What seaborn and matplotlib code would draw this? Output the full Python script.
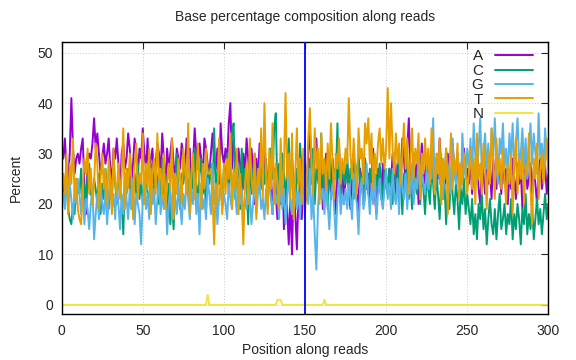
import numpy as np
import pandas as pd
import seaborn as sns
import matplotlib.pyplot as plt

# base composition per read position
pos = list(range(1, 301))

base_a = [29,33,27,24,30,41,31,26,29,30,28,31,33,24,18,28,30,29,32,37,31,34,30,26,29,
          32,28,30,33,27,25,31,29,33,28,22,30,32,27,29,34,31,24,28,33,30,26,31,29,35,
          30,27,33,25,29,31,24,28,32,30,26,34,29,23,31,27,30,33,28,25,31,29,27,32,30,
          26,33,29,31,24,28,35,30,27,32,29,25,33,31,28,26,30,34,29,27,31,24,36,30,28,
          31,28,36,40,27,33,29,25,31,28,22,30,26,33,29,24,31,27,20,29,25,32,28,23,30,
          26,21,29,24,18,27,22,17,25,20,28,15,23,19,12,21,10,24,18,11,22,26,17,23,20,
          22,30,35,27,24,31,33,26,22,28,19,25,30,23,27,21,29,24,18,26,31,22,27,20,25,
          28,23,19,26,30,22,25,18,27,24,21,29,23,26,20,25,31,22,18,27,24,21,28,23,26,
          22,27,24,30,25,21,28,26,23,33,29,24,31,37,27,22,30,25,28,20,26,32,27,24,29,
          23,28,31,26,22,29,25,33,27,21,28,24,30,26,23,32,27,25,29,22,28,24,31,26,27,
          24,29,22,27,25,31,23,20,28,26,22,30,24,27,21,29,25,23,28,26,22,30,24,27,20,
          26,23,29,25,21,28,24,27,19,26,30,23,25,28,22,27,24,20,26,29,23,25,28,22,26]

base_c = [24,21,27,19,17,16,20,18,25,23,22,27,20,24,19,26,28,22,21,25,23,20,26,18,24,
          21,27,23,19,25,22,28,24,20,26,23,21,14,25,22,27,24,19,23,26,22,28,21,25,20,
          23,26,22,19,28,24,21,27,25,20,23,29,22,26,18,24,16,21,15,23,30,22,19,26,24,
          28,22,25,20,27,23,31,24,21,26,29,22,25,19,27,24,28,21,35,23,26,32,24,20,27,
          25,30,22,27,34,36,21,28,26,19,31,23,27,24,16,29,22,26,30,21,25,28,23,27,24,
          29,23,27,31,25,35,38,22,28,24,30,26,21,27,33,23,29,25,20,27,24,32,26,22,28,
          26,22,29,24,31,20,27,25,23,34,21,28,26,19,30,24,22,27,25,36,23,20,28,26,24,
          30,22,27,25,21,28,24,31,23,26,20,29,25,22,27,24,30,21,26,23,28,25,20,27,24,
          22,27,24,20,29,25,22,31,24,18,26,23,28,21,25,19,27,24,22,29,20,26,23,18,25,
          23,20,27,24,19,26,22,17,25,21,24,16,23,19,26,22,18,24,21,15,23,20,25,18,22,
          19,16,21,14,18,13,20,17,22,15,19,12,17,21,16,14,19,13,18,22,15,17,20,14,18,
          16,21,13,18,15,20,17,12,19,16,22,14,18,15,20,13,17,21,16,19,14,18,22,17,20]

base_g = [22,19,26,18,24,21,17,23,20,25,22,18,24,16,21,19,15,20,23,13,18,22,17,24,20,
          18,23,16,21,25,19,22,17,24,20,15,22,18,26,21,17,23,19,25,16,22,20,18,12,21,
          24,19,22,17,27,20,23,16,21,25,18,22,19,24,14,20,23,17,26,21,18,24,20,16,22,
          19,25,21,17,23,20,26,18,22,14,24,19,21,17,25,22,18,28,20,23,16,21,24,19,22,
          20,17,24,21,19,26,22,18,25,20,23,17,21,19,24,22,16,20,25,18,22,24,19,21,17,
          23,19,26,21,18,24,20,22,17,25,19,23,16,21,26,20,18,24,22,19,23,17,25,20,22,
          24,20,27,17,22,14,7,19,25,21,23,18,26,20,15,22,24,19,13,21,25,18,22,20,23,
          19,24,21,17,26,22,20,14,23,25,19,21,28,22,18,24,20,26,17,22,25,21,19,23,27,
          21,24,19,27,22,20,25,18,29,23,21,26,19,24,22,28,20,25,23,30,21,26,24,22,27,
          23,28,25,37,22,27,30,24,29,21,26,31,25,28,22,33,26,24,30,27,23,34,28,25,31,
          27,33,26,36,29,24,31,37,26,30,34,27,32,25,35,29,37,28,24,33,30,36,27,31,25,
          34,29,36,26,32,37,28,30,35,27,33,25,31,36,28,34,30,26,38,29,32,27,35,30,28]

base_t = [26,22,30,18,28,24,33,21,25,19,17,16,23,29,26,31,22,27,20,24,32,28,19,25,30,
          23,27,20,29,25,18,31,24,22,28,21,26,35,19,27,23,30,25,17,28,32,21,26,24,34,
          20,28,23,31,18,26,29,22,34,25,27,21,30,19,24,28,23,33,17,26,22,29,25,20,31,
          27,22,36,18,26,30,21,25,32,24,19,28,23,31,26,26,27,22,12,24,20,33,25,18,28,
          22,29,25,34,19,27,23,31,18,26,21,12,24,28,20,33,25,22,30,17,27,24,35,21,40,
          26,18,31,23,36,20,28,24,19,33,22,27,42,25,30,21,34,17,26,35,23,29,20,31,18,
          24,33,39,28,22,35,27,31,20,34,26,29,23,32,25,36,28,21,30,27,33,24,29,26,31,
          28,41,30,25,33,27,22,35,29,31,24,36,32,37,28,34,23,30,26,32,35,28,33,27,31,
          43,29,40,31,26,34,28,32,24,30,36,27,33,22,29,35,25,31,28,34,21,30,26,33,27,
          31,24,35,28,22,30,26,33,20,29,25,31,18,27,34,23,29,26,32,21,28,24,30,27,22,
          26,31,23,29,20,34,25,28,22,32,27,19,30,24,35,28,21,33,26,29,23,31,25,20,28,
          24,30,18,27,33,22,29,25,31,20,28,26,34,23,16,29,25,32,21,27,30,24,28,33,26]

base_n = [0]*300
base_n[89] = 2
base_n[132] = 1
base_n[133] = 1
base_n[134] = 1
base_n[161] = 1

bases = ["A", "C", "G", "T", "N"]
colors = ["#9400D3", "#009E73", "#56B4E9", "#E69F00", "#F0E442"]

df = pd.DataFrame({"pos": pos, "A": base_a, "C": base_c, "G": base_g, "T": base_t, "N": base_n})
long = df.melt(id_vars="pos", var_name="base", value_name="percent")

sns.set_style("white")
plt.rcParams["font.family"] = ["Liberation Sans", "DejaVu Sans"]

fig = plt.figure(figsize=(5.76, 3.6), dpi=100)
ax = fig.add_axes([0.107, 0.128, 0.845, 0.755])

sns.lineplot(data=long, x="pos", y="percent", hue="base", hue_order=bases,
             palette=dict(zip(bases, colors)), linewidth=1.4, ax=ax)
ax.axvline(150, color="#0000FF", linewidth=1.3, zorder=5)

ax.set_xlim(0, 300)
ax.set_ylim(-1.8, 52.1)
ax.set_xticks(range(0, 301, 50))
ax.set_yticks(range(0, 51, 10))
ax.grid(True, color="#c8c8c8", linestyle=(0, (1, 2)), linewidth=0.7)
ax.tick_params(direction="in", top=True, right=True, length=5, labelsize=10)
ax.tick_params(axis="x", pad=7)
ax.tick_params(axis="y", pad=6)
for s in ax.spines.values():
    s.set_linewidth(1.0)
    s.set_color("black")

ax.set_xlabel("Position along reads", fontsize=10, labelpad=4)
ax.set_ylabel("Percent", fontsize=10, labelpad=11)
ax.set_title("Base percentage composition along reads", fontsize=10, pad=15)

ax.legend(loc="upper right", bbox_to_anchor=(0.978, 0.99), frameon=False,
          markerfirst=False, fontsize=11, handlelength=2.5, labelspacing=0.03,
          borderaxespad=0.0, borderpad=0.3, handletextpad=0.75)

fig.savefig("out.png", dpi=100)
